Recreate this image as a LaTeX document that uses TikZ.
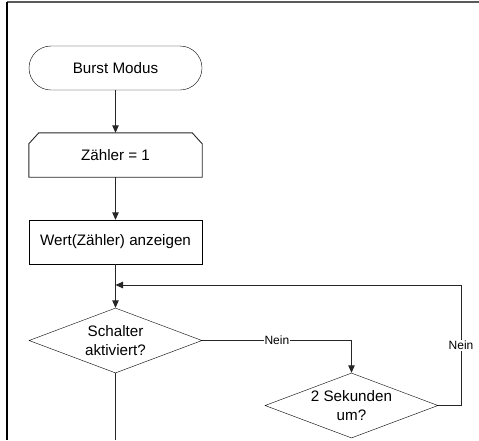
\documentclass[tikz,border=0pt]{standalone}
\usepackage{fontspec}
\setmainfont{Liberation Sans}
\usetikzlibrary{shapes.geometric,arrows.meta,calc}
\begin{document}
\begin{tikzpicture}[x=1pt,y=-1pt,
  every node/.style={inner sep=0pt},
  txt/.style={font=\fontsize{15.2}{18.8}\selectfont, align=center},
  term/.style={txt, draw, rectangle, rounded corners=22pt, minimum width=173pt, minimum height=44pt},
  procbox/.style={txt, draw, rectangle, minimum width=173pt, minimum height=44pt},
  prepbox/.style={txt, rectangle, minimum width=173pt, minimum height=44pt},
  decision/.style={txt, draw, diamond, aspect=2.66, minimum width=173pt, minimum height=65pt},
  conn/.style={line width=0.9pt, draw=black!85},
  arr/.style={conn, -{Triangle[length=7.5pt,width=6.5pt]}},
  lbl/.style={font=\fontsize{12}{14}\selectfont, fill=white, inner sep=1pt},
  frame/.style={line width=2pt, draw=black!65},
  frameleft/.style={line width=1.5pt, draw=black}
]
\useasboundingbox (0,0) rectangle (479,440);
% frame
\draw[frame] (6.5,2) -- (479,2);
\draw[frameleft] (7,2) -- (7,440);

\node[term] (s) at (115.5,68) {Burst Modus};
\node[prepbox] (z) at (115.5,155) {Zähler = 1};
\draw[conn] (z.south west) -- ([yshift=-11pt]z.north west) -- ([xshift=10pt]z.north west)
  -- ([xshift=-10pt]z.north east) -- ([yshift=-11pt]z.north east) -- (z.south east) -- cycle;
\node[procbox] (w) at (115.5,242) {Wert(Zähler) anzeigen};
\node[decision] (d1) at (115.5,340.5) {Schalter\\aktiviert?};
\node[decision] (d2) at (351.5,405.5) {2 Sekunden\\um?};

\coordinate (j) at (115.5,285);
\coordinate (r) at (461,285);
\coordinate (e) at (115.5,440);

\draw[arr] (s) -- (z);
\draw[arr] (z) -- (w);
\draw[arr] (w) -- (d1);
\draw[arr] (d1.east) -| node[lbl, pos=0.25] {Nein} (d2.north);
\draw[conn] (d2.east) -| node[lbl, pos=0.75] {Nein} (r);
\draw[arr] (r) -- (j);
\draw[conn] (d1.south) -- (e);
\end{tikzpicture}
\end{document}
